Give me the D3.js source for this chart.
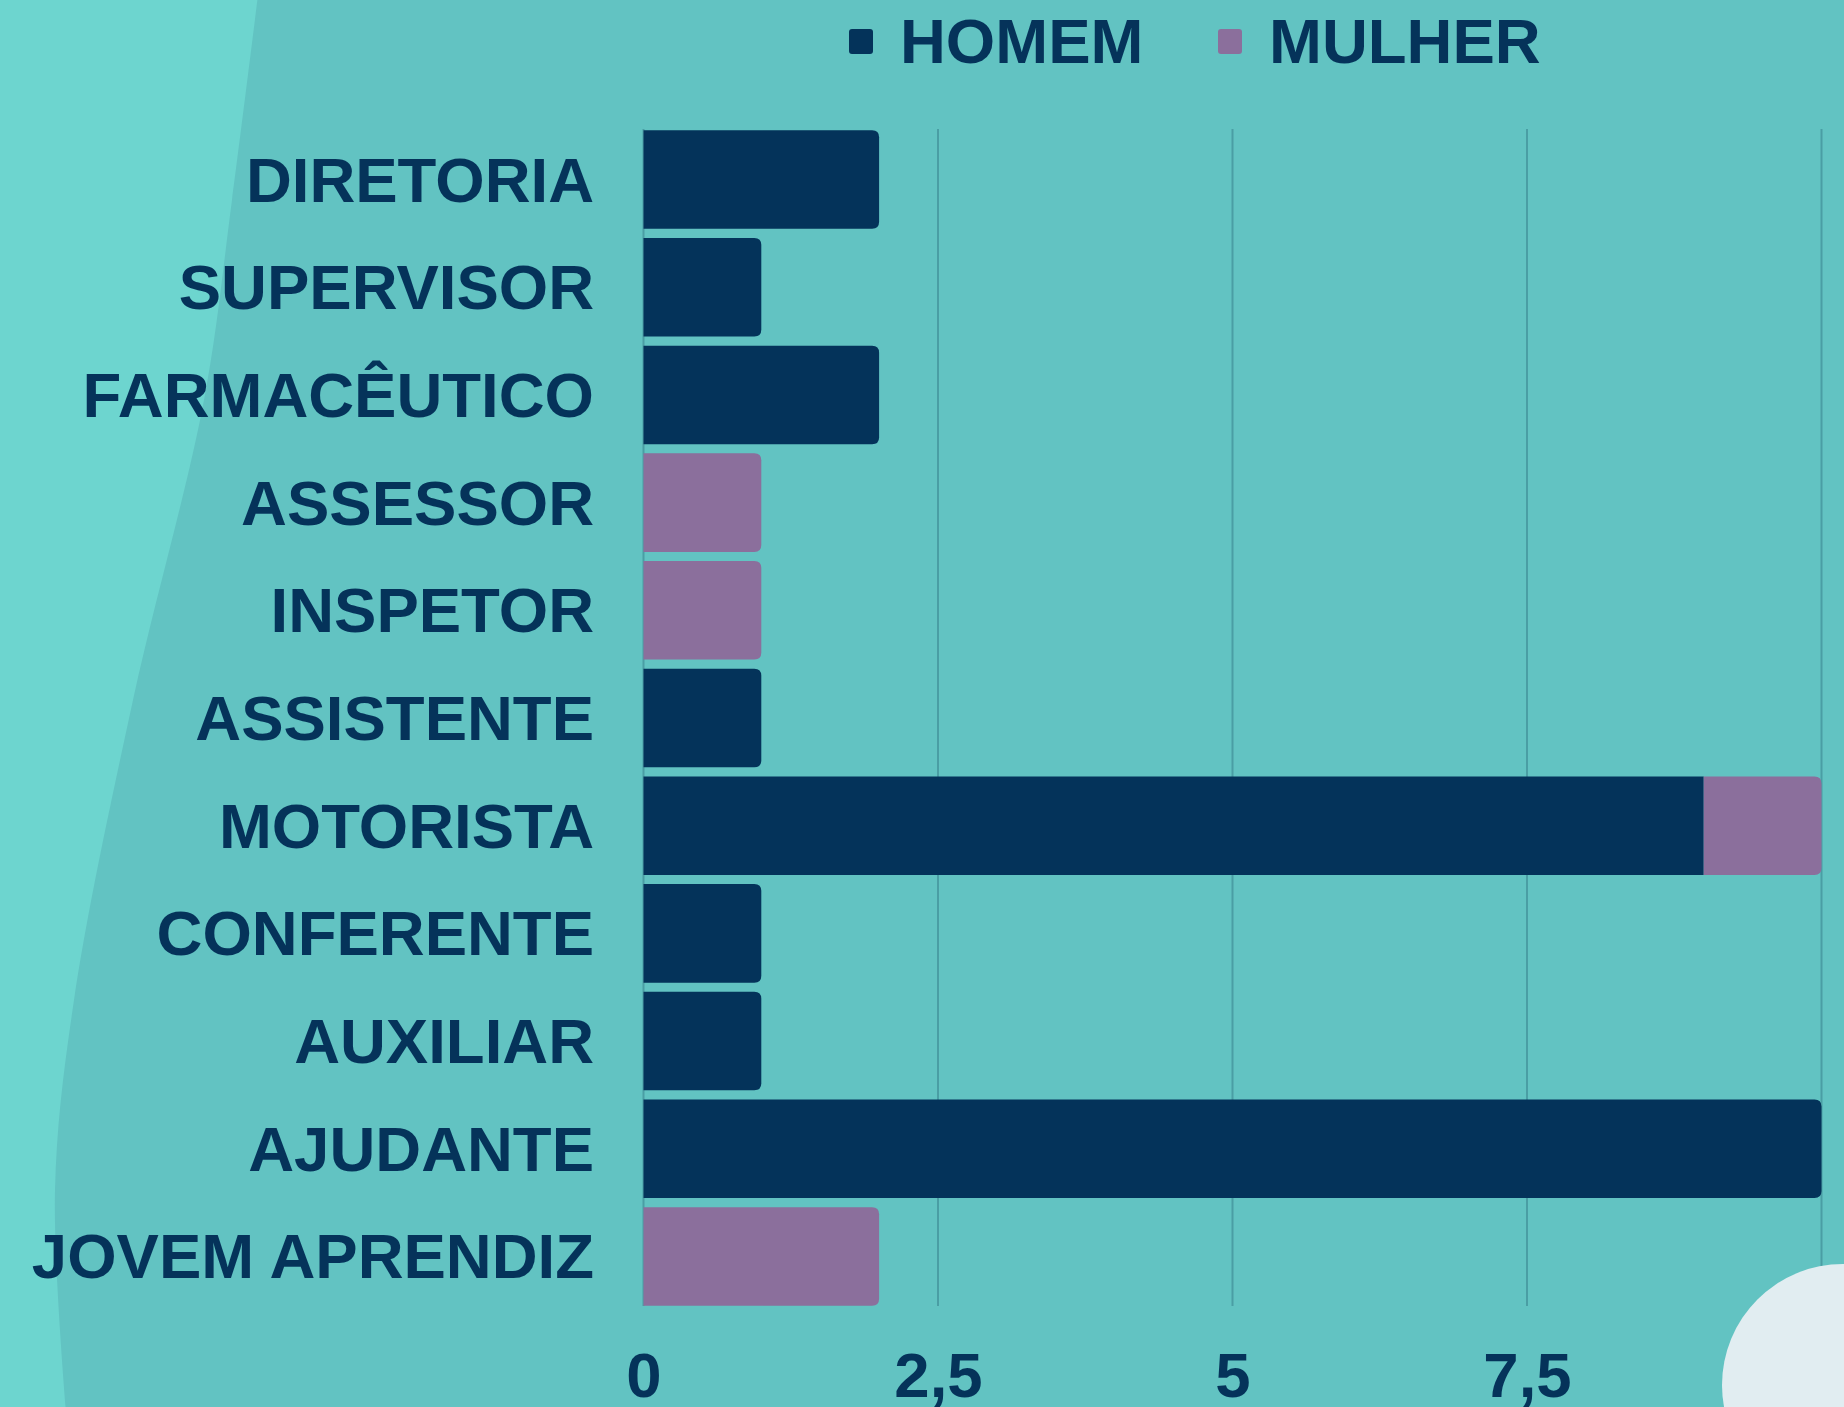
<!DOCTYPE html>
<html lang="pt">
<head>
    <meta charset="UTF-8">
    <title>Cargos por gênero</title>
    <script src="https://cdn.jsdelivr.net/npm/d3@7"></script>
    <style>
        html, body {
            margin: 0;
            padding: 0;
            background: #62c3c2;
        }
        svg {
            display: block;
            font-family: "Liberation Sans", Arial, sans-serif;
            font-weight: bold;
        }
        text.label {
            fill: #05335a;
            font-size: 63.5px;
        }
    </style>
</head>
<body>

<svg id="chart" width="1844" height="1407"></svg>

<script>
    // dados do gráfico
    var categories = ["DIRETORIA", "SUPERVISOR", "FARMACÊUTICO", "ASSESSOR", "INSPETOR",
        "ASSISTENTE", "MOTORISTA", "CONFERENTE", "AUXILIAR", "AJUDANTE", "JOVEM APRENDIZ"];
    var homem  = [2, 1, 2, 0, 0, 1, 9, 1, 1, 10, 0];
    var mulher = [0, 0, 0, 1, 1, 0, 1, 0, 0, 0, 2];
    var seriesNames = ["HOMEM", "MULHER"];
    var seriesColors = ["#04335a", "#8b6f9c"];
    var tickValues = [0, 2.5, 5, 7.5, 10];

    var width = 1844, height = 1407;
    var svg = d3.select("#chart");

    // fundo: faixa clara à esquerda
    svg.append("rect")
        .attr("width", width)
        .attr("height", height)
        .attr("fill", "#62c3c2");

    var edge = [[258, -5], [232, 200], [204, 400], [133, 700], [74, 1000], [55, 1190], [66, 1412]];
    svg.append("path")
        .attr("d", d3.line().curve(d3.curveCatmullRom)(edge) + "L0,1412L0,-5Z")
        .attr("fill", "#6dd5cf");

    var x = d3.scaleLinear().domain([0, 10]).range([643.5, 1821.5]);
    var y = d3.scaleBand().domain(categories).range([126, 1310]).paddingInner(0.085).paddingOuter(0.04);

    // linhas de grade
    svg.append("g")
        .selectAll("line")
        .data(tickValues)
        .enter()
        .append("line")
        .attr("x1", function(d) { return x(d); })
        .attr("x2", function(d) { return x(d); })
        .attr("y1", 129)
        .attr("y2", 1306)
        .attr("stroke", "#4a9ea4")
        .attr("stroke-width", 2);

    // barras empilhadas
    var rows = categories.map(function(c, i) {
        return { cat: c, homem: homem[i], mulher: mulher[i] };
    });
    var stacked = d3.stack().keys(["homem", "mulher"])(rows);

    function barPath(x0, x1, y0, h, roundRight) {
        var r = roundRight ? Math.min(7, (x1 - x0) / 2) : 0;
        return "M" + x0 + "," + y0 +
            " L" + (x1 - r) + "," + y0 +
            " Q" + x1 + "," + y0 + " " + x1 + "," + (y0 + r) +
            " L" + x1 + "," + (y0 + h - r) +
            " Q" + x1 + "," + (y0 + h) + " " + (x1 - r) + "," + (y0 + h) +
            " L" + x0 + "," + (y0 + h) + " Z";
    }

    stacked.forEach(function(layer, k) {
        svg.append("g")
            .selectAll("path")
            .data(layer.filter(function(d) { return d[1] > d[0]; }))
            .enter()
            .append("path")
            .attr("fill", seriesColors[k])
            .attr("d", function(d) {
                var isLast = (k === stacked.length - 1) || d.data.mulher === 0;
                return barPath(x(d[0]), x(d[1]), y(d.data.cat), y.bandwidth(), isLast);
            });
    });

    // rótulos das categorias
    svg.append("g")
        .selectAll("text")
        .data(categories)
        .enter()
        .append("text")
        .attr("class", "label")
        .attr("text-anchor", "end")
        .attr("x", 594)
        .attr("y", function(d) { return y(d) + y.bandwidth() / 2 + 22; })
        .text(function(d) { return d; });

    // eixo x com vírgula decimal
    var ptBR = d3.formatLocale({ decimal: ",", thousands: ".", grouping: [3], currency: ["R$", ""] });
    var fmt = ptBR.format("~g");
    var xAxis = svg.append("g")
        .attr("transform", "translate(0,1352)")
        .call(d3.axisBottom(x).tickValues(tickValues).tickFormat(fmt).tickSize(0).tickPadding(0));
    xAxis.select(".domain").remove();
    xAxis.selectAll("text")
        .attr("class", "label")
        .attr("dy", "0.71em")
        .attr("fill", "#05335a")
        .style("font-size", "63.5px")
        .style("font-family", "'Liberation Sans', Arial, sans-serif")
        .style("font-weight", "bold");

    // legenda
    var legendX = [849, 1218];
    var legend = svg.append("g")
        .selectAll("g")
        .data(seriesNames)
        .enter()
        .append("g")
        .attr("transform", function(d, i) { return "translate(" + legendX[i] + ",0)"; });
    legend.append("rect")
        .attr("y", 29)
        .attr("width", 24)
        .attr("height", 25)
        .attr("rx", 3)
        .attr("fill", function(d, i) { return seriesColors[i]; });
    legend.append("text")
        .attr("class", "label")
        .attr("x", 51)
        .attr("y", 63)
        .text(function(d) { return d; });

    // círculo claro no canto inferior direito
    svg.append("circle")
        .attr("cx", 1843)
        .attr("cy", 1385)
        .attr("r", 121)
        .attr("fill", "#e1edf1");
</script>
</body>
</html>
